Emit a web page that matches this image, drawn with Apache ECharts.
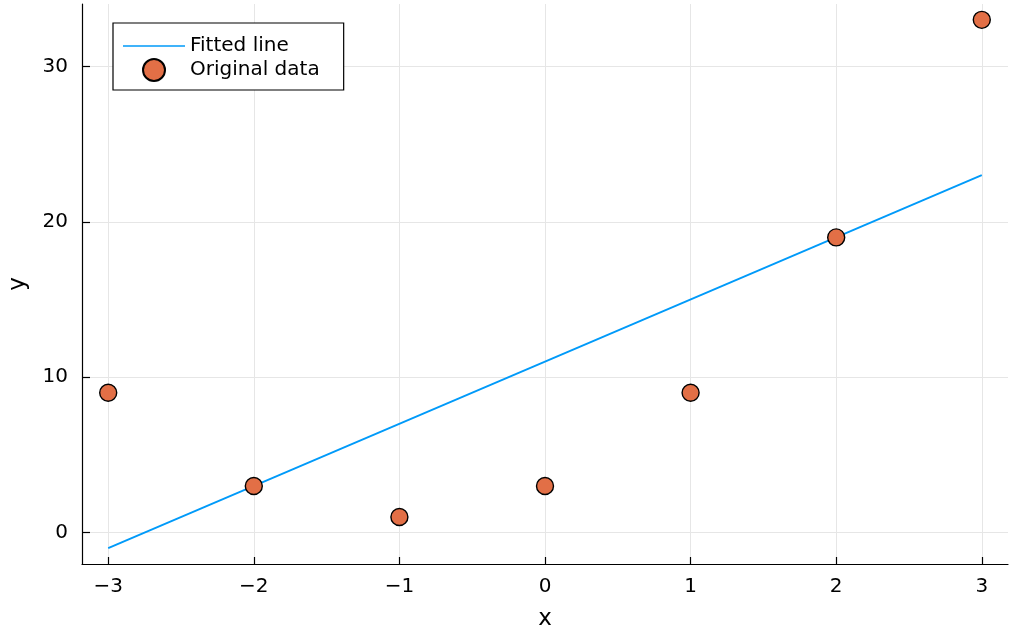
<!DOCTYPE html>
<html>
<head>
<meta charset="utf-8">
<script src="https://cdn.jsdelivr.net/npm/echarts@6/dist/echarts.min.js"></script>
<style>
  html, body { margin: 0; padding: 0; background: #fff; }
  #chart { width: 1012px; height: 629px; }
</style>
</head>
<body>
<div id="chart"></div>
<script>
// Observed points
const dataX = [-3, -2, -1, 0, 1, 2, 3];
const dataY = [9, 3, 1, 3, 9, 19, 33];

// Least-squares line evaluated at the ends of the x range
const lineX = [-3, 3];
const lineY = [-1, 23];

// Tick positions
const xTicks = [-3, -2, -1, 0, 1, 2, 3];
const yTicks = [0, 10, 20, 30];

const FONT = 'DejaVu Sans';
const fmt = v => (v < 0 ? '\u2212' + Math.abs(v) : String(v));

const chart = echarts.init(document.getElementById('chart'), null, { renderer: 'canvas' });

chart.setOption({
  animation: false,
  backgroundColor: '#ffffff',
  grid: { left: 82, right: 4, top: 4, bottom: 65, containLabel: false, outerBoundsMode: 'none' },
  xAxis: {
    type: 'value',
    min: -3.18,
    max: 3.18,
    name: 'x',
    nameLocation: 'middle',
    nameGap: 44,
    nameTextStyle: { fontFamily: FONT, fontSize: 23, color: '#000' },
    axisLine: { show: true, onZero: false, lineStyle: { color: '#000', width: 1.2 } },
    axisTick: { show: true, inside: true, length: 7, customValues: xTicks, lineStyle: { color: '#000', width: 1.2 } },
    axisLabel: { customValues: xTicks, formatter: fmt, margin: 13, fontFamily: FONT, fontSize: 20, color: '#000' },
    splitLine: { show: true, lineStyle: { color: '#e6e6e6', width: 1 } }
  },
  yAxis: {
    type: 'value',
    min: -2.02,
    max: 34.02,
    name: 'y',
    nameLocation: 'middle',
    nameGap: 52,
    nameRotate: 90,
    nameTextStyle: { fontFamily: FONT, fontSize: 23, color: '#000' },
    axisLine: { show: true, onZero: false, lineStyle: { color: '#000', width: 1.2 } },
    axisTick: { show: true, inside: true, length: 8, customValues: yTicks, lineStyle: { color: '#000', width: 1.2 } },
    axisLabel: { customValues: yTicks, formatter: fmt, margin: 14, fontFamily: FONT, fontSize: 20, color: '#000' },
    splitLine: { show: true, lineStyle: { color: '#e6e6e6', width: 1 } }
  },
  legend: {
    left: 113,
    top: 23,
    orient: 'vertical',
    align: 'left',
    backgroundColor: '#ffffff',
    borderColor: '#000',
    borderWidth: 1.2,
    borderRadius: 0,
    padding: [13, 24, 8, 10],
    itemWidth: 62,
    itemHeight: 22,
    itemGap: 2,
    itemTextGap: 17,
    textStyle: { fontFamily: FONT, fontSize: 20, color: '#000' },
    data: [
      { name: 'Fitted line', icon: 'path://M0,0 H62 V1.7 H0 Z' },
      { name: 'Original data' }
    ]
  },
  series: [
    {
      name: 'Fitted line',
      type: 'line',
      symbol: 'none',
      data: lineX.map((x, i) => [x, lineY[i]]),
      lineStyle: { color: '#009af9', width: 1.9 },
      itemStyle: { color: '#009af9' },
      z: 2
    },
    {
      name: 'Original data',
      type: 'scatter',
      symbol: 'circle',
      symbolSize: 17,
      data: dataX.map((x, i) => [x, dataY[i]]),
      itemStyle: { color: '#e26f46', borderColor: '#000', borderWidth: 1.4, opacity: 1 },
      z: 3
    }
  ]
});
</script>
</body>
</html>
